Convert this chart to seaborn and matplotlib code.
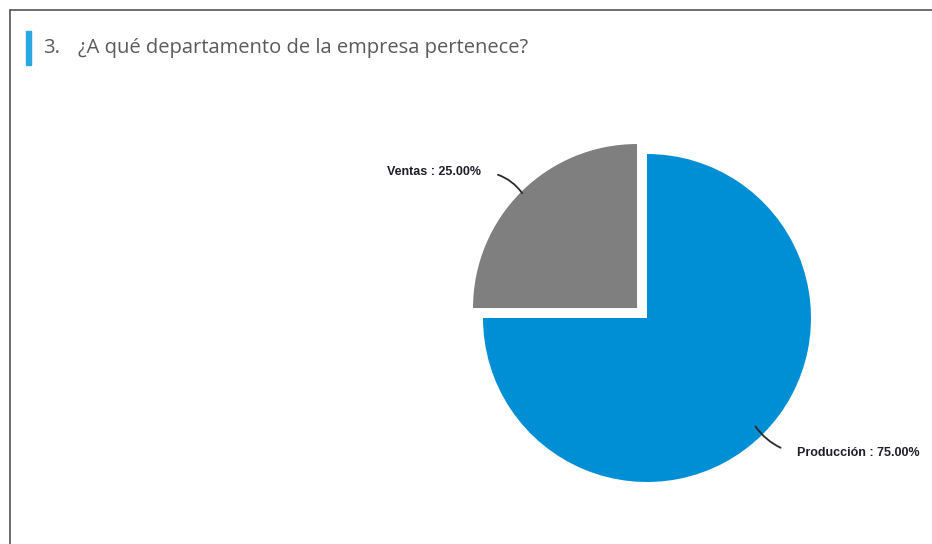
import numpy as np
import matplotlib
matplotlib.use("Agg")
import matplotlib.pyplot as plt
import seaborn as sns

# ---- data ----
categories = ["Producción", "Ventas"]
percentages = [75.0, 25.0]
colors = ["#008fd5", "#7f7f7f"]
title = "¿A qué departamento de la empresa pertenece?"
question_number = "3."

sns.set_theme(style="white")
plt.rcParams['font.family'] = ['Open Sans', 'DejaVu Sans']

W, H = 932, 544
fig = plt.figure(figsize=(W / 100, H / 100), dpi=100)
fig.patch.set_facecolor("white")

# frame lines (top & left)
fig.add_artist(plt.Line2D([10 / W, 1], [1 - 10 / H, 1 - 10 / H], color="#555555", lw=1.2))
fig.add_artist(plt.Line2D([10 / W, 10 / W], [0, 1 - 10 / H], color="#555555", lw=1.2))

# blue accent bar
fig.add_artist(plt.Rectangle((26 / W, 1 - 65 / H), 5 / W, 34 / H, color="#29a8e0",
                             transform=fig.transFigure))
fig.text(43 / W, 1 - 48 / H, question_number, fontsize=14.5, color="#5a5a5a", va="center")
fig.text(78 / W, 1 - 48 / H, title, fontsize=14.5, color="#5a5a5a", va="center")

# pie axes: center at (647,318) px, radius 164 px
cx, cy, R = 647, 318, 164
side = 400
ax = fig.add_axes([(cx - side / 2) / W, (H - cy - side / 2) / H, side / W, side / H])

explode = [0.0, 0.086]
wedges, _ = ax.pie(percentages, colors=colors, startangle=90, counterclock=False,
                   explode=explode, radius=1.0,
                   wedgeprops=dict(linewidth=0))
lim = side / 2 / R
ax.set_xlim(-lim, lim)
ax.set_ylim(-lim, lim)
ax.set_aspect("equal")
ax.axis("off")

# labels with curved leader lines
label_pos = {"Ventas": ((481 - cx) / R, (cy - 172) / R, "right", (1, 0.5), -0.25, 0.99, 10),
             "Producción": ((797 - cx) / R, (cy - 453) / R, "left", (0, 0.5), -0.2, 0.935, 10)}
for w, cat, p, ex in zip(wedges, categories, percentages, explode):
    ang = np.deg2rad((w.theta1 + w.theta2) / 2)
    ox, oy = ex * np.cos(ang), ex * np.sin(ang)
    tx, ty, ha, rp, rad, rr, sa = label_pos[cat]
    xy = (ox + rr * np.cos(ang), oy + rr * np.sin(ang))
    ax.annotate(f"{cat} : {p:.2f}%", xy=xy, xytext=(tx, ty), ha=ha, va="center",
                fontsize=9, fontweight="bold", color="#1f1f2a",
                fontfamily=["Liberation Sans", "DejaVu Sans"],
                arrowprops=dict(arrowstyle="-", color="#2a2a2a", lw=1.3,
                                relpos=rp, shrinkA=sa, shrinkB=0,
                                connectionstyle=f"arc3,rad={rad}"),
                annotation_clip=False)

fig.savefig("out.png", dpi=100, facecolor="white")
